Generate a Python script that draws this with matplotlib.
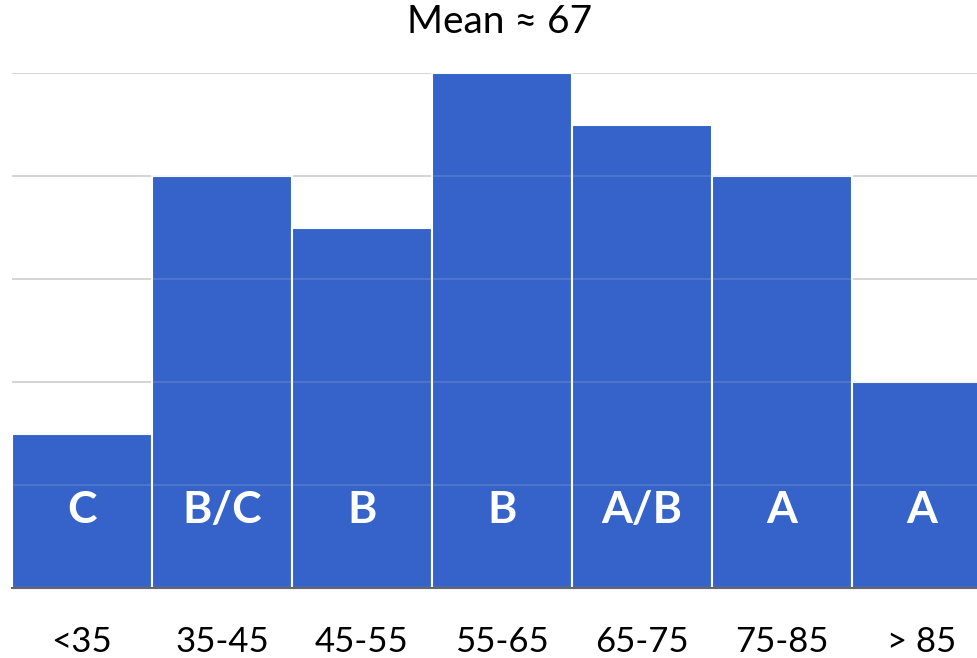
import matplotlib
matplotlib.use('Agg')
import matplotlib.pyplot as plt

plt.rcParams['font.family'] = ['Lato', 'DejaVu Sans']

# data
bins = ['<35', '35-45', '45-55', '55-65', '65-75', '75-85', '> 85']
counts = [1.5, 4, 3.5, 5, 4.5, 4, 2]
grades = ['C', 'B/C', 'B', 'B', 'A/B', 'A', 'A']
grid_levels = [1, 2, 3, 4, 5]

bar_color = '#3563C9'

fig = plt.figure(figsize=(9.78, 6.58), dpi=100)
# axes runs a bit past the right edge, as in the reference
ax = fig.add_axes([12 / 978, 70 / 658, 980 / 978, 515 / 658])

x = list(range(len(bins)))
ax.bar(x, counts, width=1.0, color=bar_color, edgecolor='white', linewidth=1.5, zorder=2)

# gridlines behind the bars, plus a faint trace over them
for lv in grid_levels:
    ax.axhline(lv, color='#d0d0d0', linewidth=1.2, zorder=1)
    ax.axhline(lv, color='#d0d0d0', linewidth=1.2, zorder=3, alpha=0.2)

for xi, g in zip(x, grades):
    ax.text(xi, 0.76, g, ha='center', va='center', color='white',
            fontsize=32, fontweight='bold', zorder=4)

ax.set_xlim(-0.5, len(bins) - 0.5)
ax.set_ylim(0, 5)
ax.tick_params(axis='y', left=False, labelleft=False)
ax.set_xticks(x)
ax.set_xticklabels(bins, fontsize=25)
ax.tick_params(axis='x', length=0, pad=27)

for s in ['top', 'right', 'left']:
    ax.spines[s].set_visible(False)
ax.spines['bottom'].set_color('#666666')
ax.spines['bottom'].set_linewidth(1.5)
ax.spines['bottom'].set_zorder(5)

fig.text(500 / 978, 1 - 22 / 658, 'Mean \u2248 67', ha='center', va='center', fontsize=28)

fig.savefig('out.png', dpi=100, facecolor='white')
